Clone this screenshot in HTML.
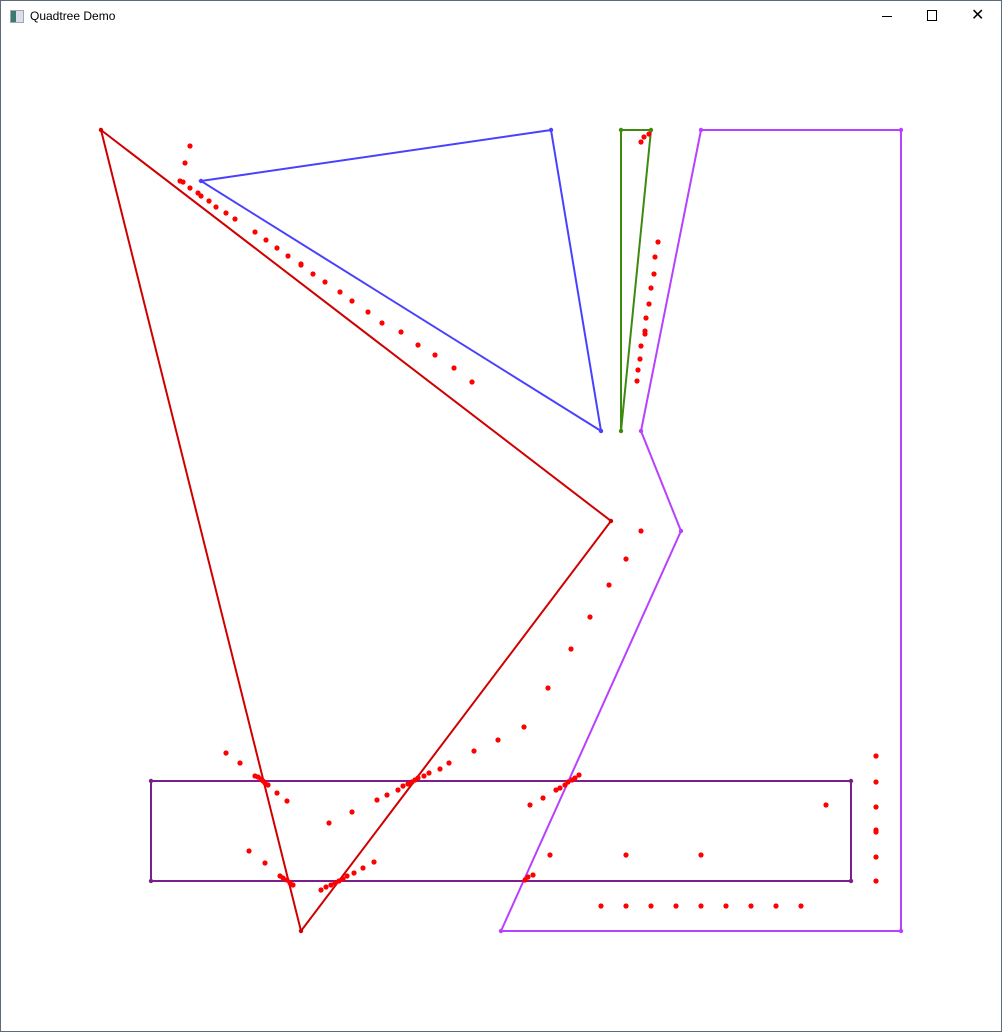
<!DOCTYPE html>
<html><head><meta charset="utf-8"><style>
html,body{margin:0;padding:0;background:#fff;}
#win{position:relative;width:1000px;height:1030px;border:1px solid #5a6b7b;background:#fff;overflow:hidden;}
#title{position:absolute;left:0;top:0;width:1000px;height:30px;font-family:"Liberation Sans",sans-serif;font-size:12px;}
</style></head><body>
<div id="win">
<div id="title">
  <div style="position:absolute;left:9px;top:9px;width:12px;height:11px;border:1px solid #9aa;background:linear-gradient(90deg,#3a7a70 40%,#dde 40%);"></div>
  <span style="position:absolute;left:29px;top:8px;color:#000;">Quadtree Demo</span>
  <div style="position:absolute;left:881px;top:15px;width:10px;height:1px;background:#000;"></div>
  <div style="position:absolute;left:926px;top:9px;width:8px;height:9px;border:1px solid #000;"></div>
  <div style="position:absolute;left:970px;top:4px;font-size:16px;color:#000;">✕</div>
</div>
<svg id="canvas" width="1002" height="1032" style="position:absolute;left:-1px;top:-1px;"></svg>
</div>
<script>
const polyRed=[[101,130],[611,521],[301,931]];
const polyBlue=[[201,181],[551,130],[601,431]];
const polyGreen=[[621,130],[651,130],[621,431]];
const polyViolet=[[701,130],[901,130],[901,931],[501,931],[681,531],[641,431]];
const polyRect=[[151,781],[851,781],[851,881],[151,881]];
const pointsX=[190,185,180,183,190,198,201,209,216,226,235,255,266,277,288,301,301,313,325,340,352,368,382,401,418,435,454,472,
641,644,649,658,655,654,651,649,646,645,645,641,640,638,637,
641,626,609,590,571,548,524,
226,240,255,258,261,263,265,268,277,287,329,352,377,387,398,403,408,412,415,418,424,429,440,449,474,498,
249,265,280,283,287,290,293,321,326,331,335,339,343,347,354,363,374,
530,543,556,560,565,568,572,575,579,525,528,533,550,
601,626,651,676,701,726,751,776,801,
876,876,876,876,876,876,876,826,626,701];
const pointsY=[146,163,181,182,188,193,196,201,207,213,219,232,240,248,256,264,265,274,282,292,301,312,323,332,345,355,368,382,
142,137,134,242,257,274,288,304,318,331,334,346,359,370,381,
531,559,585,617,649,688,727,
753,763,776,777,779,781,783,785,793,801,823,812,800,795,790,786,784,782,780,778,776,773,769,763,751,740,
851,863,876,878,880,883,885,890,887,885,883,881,879,876,873,868,862,
805,798,790,788,785,782,780,778,775,880,877,875,855,
906,906,906,906,906,906,906,906,906,
756,782,807,830,832,857,881,805,855,855];
const svg=document.getElementById('canvas');
const NS='http://www.w3.org/2000/svg';
function drawPoly(pts,color,name,w){
  const p=document.createElementNS(NS,'polygon');
  p.setAttribute('points',pts.map(q=>q.join(',')).join(' '));
  p.setAttribute('fill','none');p.setAttribute('stroke',color);p.setAttribute('stroke-width',w);
  
  
  svg.appendChild(p);
  pts.forEach(q=>{
    const c=document.createElementNS(NS,'circle');
    c.setAttribute('cx',q[0]);c.setAttribute('cy',q[1]);c.setAttribute('r',2.2);c.setAttribute('fill',color);
    
    
    svg.appendChild(c);
  });
}
drawPoly(polyRed,'#d00000','red-triangle',2);
drawPoly(polyBlue,'#4a40ff','blue-triangle',2);
drawPoly(polyGreen,'#3d8a10','green-triangle',2);
drawPoly(polyViolet,'#b840ff','violet-polygon',2);
drawPoly(polyRect,'#7a1f8c','purple-rectangle',2);
for(let i=0;i<pointsX.length;i++){
  const c=document.createElementNS(NS,'circle');
  c.setAttribute('cx',pointsX[i]);c.setAttribute('cy',pointsY[i]);c.setAttribute('r',2.6);c.setAttribute('fill','#ff0000');
  
  
  svg.appendChild(c);
}
</script>
</body></html>
